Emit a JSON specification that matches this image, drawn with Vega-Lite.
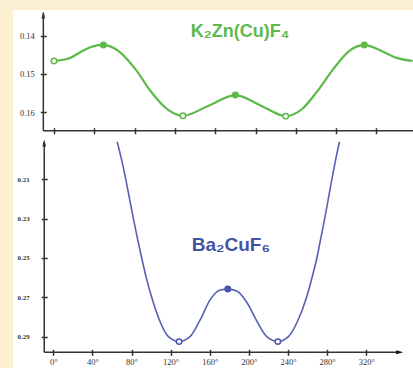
{
  "$schema": "https://vega.github.io/schema/vega-lite/v6.json",
  "background": "#FDF0D2",
  "padding": {"left": 13, "top": 10, "right": 0, "bottom": 0},
  "spacing": 0,
  "config": {
    "view": {"fill": "white", "stroke": null},
    "axis": {"grid": false, "title": null, "domain": false, "tickColor": "#333333", "tickWidth": 1.5, "labelColor": "#333333", "labelFont": "Liberation Serif"}
  },
  "datasets": {
    "green": [
      {"angle": 0, "e": 0.1466}, {"angle": 16, "e": 0.1458}, {"angle": 26, "e": 0.1443},
      {"angle": 36, "e": 0.1430}, {"angle": 49, "e": 0.1424}, {"angle": 65, "e": 0.1442},
      {"angle": 81, "e": 0.1488}, {"angle": 96, "e": 0.1545}, {"angle": 112, "e": 0.1591},
      {"angle": 128, "e": 0.1609}, {"angle": 154, "e": 0.1582}, {"angle": 180, "e": 0.1555},
      {"angle": 205, "e": 0.1582}, {"angle": 230, "e": 0.1610}, {"angle": 246, "e": 0.1592},
      {"angle": 261, "e": 0.1546}, {"angle": 277, "e": 0.1488}, {"angle": 292, "e": 0.1442},
      {"angle": 308, "e": 0.1424}, {"angle": 325, "e": 0.1440}, {"angle": 340, "e": 0.1458},
      {"angle": 356, "e": 0.1466}
    ],
    "greenPts": [
      {"angle": 0, "e": 0.1466, "kind": "open"}, {"angle": 49, "e": 0.1424, "kind": "filled"},
      {"angle": 128, "e": 0.1609, "kind": "open"}, {"angle": 180, "e": 0.1555, "kind": "filled"},
      {"angle": 230, "e": 0.1610, "kind": "open"}, {"angle": 308, "e": 0.1424, "kind": "filled"}
    ],
    "blue": [
      {"angle": 65.3, "e": 0.1909}, {"angle": 69.8, "e": 0.2000}, {"angle": 74.1, "e": 0.2100},
      {"angle": 78, "e": 0.2200}, {"angle": 81.9, "e": 0.2300}, {"angle": 86, "e": 0.2400},
      {"angle": 90.4, "e": 0.2500}, {"angle": 95, "e": 0.2600}, {"angle": 100.6, "e": 0.2700},
      {"angle": 109.2, "e": 0.2824}, {"angle": 117.7, "e": 0.2900}, {"angle": 128.6, "e": 0.2925},
      {"angle": 139.8, "e": 0.2900}, {"angle": 150.1, "e": 0.2815}, {"angle": 160.3, "e": 0.2713},
      {"angle": 170.5, "e": 0.2663}, {"angle": 178.4, "e": 0.2658}, {"angle": 187.6, "e": 0.2668},
      {"angle": 197.8, "e": 0.2725}, {"angle": 208, "e": 0.2820}, {"angle": 218.3, "e": 0.2900},
      {"angle": 229.6, "e": 0.2925}, {"angle": 240.4, "e": 0.2900}, {"angle": 249.5, "e": 0.2824},
      {"angle": 259, "e": 0.2700}, {"angle": 264.5, "e": 0.2600}, {"angle": 269.5, "e": 0.2500},
      {"angle": 273.5, "e": 0.2400}, {"angle": 277.5, "e": 0.2300}, {"angle": 281.2, "e": 0.2200},
      {"angle": 284.8, "e": 0.2100}, {"angle": 288.7, "e": 0.2000}, {"angle": 292.6, "e": 0.1909}
    ],
    "bluePts": [
      {"angle": 128.6, "e": 0.2925, "kind": "open"}, {"angle": 178.4, "e": 0.2658, "kind": "filled"},
      {"angle": 229.6, "e": 0.2925, "kind": "open"}
    ],
    "one": [{}]
  },
  "resolve": {"scale": {"x": "independent", "y": "independent", "fill": "independent"}},
  "vconcat": [
    {
      "width": 400,
      "height": 127,
      "layer": [
        {
          "data": {"name": "one"},
          "mark": {"type": "rule", "color": "#333333", "strokeWidth": 1.5},
          "encoding": {
            "x": {"datum": -10.6, "type": "quantitative", "scale": {"domain": [-40.7, 356.3], "nice": false, "zero": false},
                  "axis": {"values": [0, 40, 80, 120, 160, 200, 240, 280, 320], "labels": false, "tickSize": 6, "offset": -9.3, "orient": "bottom"}},
            "y": {"datum": 0.1340, "type": "quantitative", "scale": {"domain": [0.13329, 0.16645], "reverse": true, "nice": false, "zero": false},
                  "axis": {"values": [0.14, 0.15, 0.16], "format": ".2f", "tickSize": 6, "offset": -33.3, "labelPadding": 6, "labelFontSize": 8.5}},
            "y2": {"datum": 0.1648}
          }
        },
        {
          "data": {"name": "one"},
          "mark": {"type": "rule", "color": "#333333", "strokeWidth": 1.5},
          "encoding": {
            "x": {"datum": -10.6, "type": "quantitative"},
            "x2": {"datum": 356.3},
            "y": {"datum": 0.1648, "type": "quantitative"}
          }
        },
        {
          "data": {"name": "one"},
          "mark": {"type": "point", "shape": "M0,-1L0.55,1L-0.55,1Z", "filled": true, "color": "#333333", "size": 49, "opacity": 1},
          "encoding": {
            "x": {"datum": -10.6, "type": "quantitative"},
            "y": {"datum": 0.1346, "type": "quantitative"}
          }
        },
        {
          "data": {"name": "green"},
          "mark": {"type": "line", "color": "#5DB94A", "strokeWidth": 2.2, "interpolate": "monotone"},
          "encoding": {
            "x": {"field": "angle", "type": "quantitative"},
            "y": {"field": "e", "type": "quantitative"}
          }
        },
        {
          "data": {"name": "greenPts"},
          "mark": {"type": "point", "filled": true, "stroke": "#5DB94A", "strokeWidth": 1.5, "size": 30, "opacity": 1},
          "encoding": {
            "x": {"field": "angle", "type": "quantitative"},
            "y": {"field": "e", "type": "quantitative"},
            "fill": {"field": "kind", "type": "nominal", "scale": {"domain": ["open", "filled"], "range": ["white", "#5DB94A"]}, "legend": null}
          }
        },
        {
          "data": {"name": "one"},
          "mark": {"type": "text", "text": "K₂Zn(Cu)F₄", "font": "Liberation Sans", "fontWeight": "bold", "fontSize": 18, "color": "#5DB94A", "baseline": "middle", "align": "center"},
          "encoding": {
            "x": {"datum": 184.6, "type": "quantitative"},
            "y": {"datum": 0.13896, "type": "quantitative"}
          }
        }
      ]
    },
    {
      "width": 400,
      "height": 231,
      "layer": [
        {
          "data": {"name": "one"},
          "mark": {"type": "rule", "color": "#333333", "strokeWidth": 1.5},
          "encoding": {
            "x": {"datum": -9.3, "type": "quantitative", "scale": {"domain": [-41.23, 367.8], "nice": false, "zero": false},
                  "axis": {"values": [0, 40, 80, 120, 160, 200, 240, 280, 320], "labelExpr": "datum.value + '°'", "tickSize": 6, "offset": -18.7, "labelPadding": 2, "labelFontSize": 8.5, "orient": "bottom"}},
            "y": {"datum": 0.1909, "type": "quantitative", "scale": {"domain": [0.1885, 0.30591], "reverse": true, "nice": false, "zero": false},
                  "axis": {"values": [0.21, 0.23, 0.25, 0.27, 0.29], "format": ".2f", "tickSize": 6, "offset": -34.2, "labelPadding": 12, "labelFontSize": 7, "labelFontWeight": "bold"}},
            "y2": {"datum": 0.29793}
          }
        },
        {
          "data": {"name": "one"},
          "mark": {"type": "rule", "color": "#333333", "strokeWidth": 1.5},
          "encoding": {
            "x": {"datum": -9.3, "type": "quantitative"},
            "x2": {"datum": 353},
            "y": {"datum": 0.29793, "type": "quantitative"}
          }
        },
        {
          "data": {"name": "one"},
          "mark": {"type": "point", "shape": "M0,-1L0.55,1L-0.55,1Z", "filled": true, "color": "#333333", "size": 49, "opacity": 1},
          "encoding": {
            "x": {"datum": -9.3, "type": "quantitative"},
            "y": {"datum": 0.19155, "type": "quantitative"}
          }
        },
        {
          "data": {"name": "one"},
          "mark": {"type": "point", "shape": "M1,0L-1,0.55L-1,-0.55Z", "filled": true, "color": "#111111", "size": 49, "opacity": 1},
          "encoding": {
            "x": {"datum": 354.2, "type": "quantitative"},
            "y": {"datum": 0.29793, "type": "quantitative"}
          }
        },
        {
          "data": {"name": "blue"},
          "mark": {"type": "line", "color": "#5761B2", "strokeWidth": 1.6, "interpolate": "monotone"},
          "encoding": {
            "x": {"field": "angle", "type": "quantitative"},
            "y": {"field": "e", "type": "quantitative"}
          }
        },
        {
          "data": {"name": "bluePts"},
          "mark": {"type": "point", "filled": true, "stroke": "#4A56AC", "strokeWidth": 1.5, "size": 30, "opacity": 1},
          "encoding": {
            "x": {"field": "angle", "type": "quantitative"},
            "y": {"field": "e", "type": "quantitative"},
            "fill": {"field": "kind", "type": "nominal", "scale": {"domain": ["open", "filled"], "range": ["white", "#4A56AC"]}, "legend": null}
          }
        },
        {
          "data": {"name": "one"},
          "mark": {"type": "text", "text": "Ba₂CuF₆", "font": "Liberation Sans", "fontWeight": "bold", "fontSize": 19, "color": "#4453A6", "baseline": "middle", "align": "center"},
          "encoding": {
            "x": {"datum": 181.6, "type": "quantitative"},
            "y": {"datum": 0.24339, "type": "quantitative"}
          }
        }
      ]
    }
  ]
}
